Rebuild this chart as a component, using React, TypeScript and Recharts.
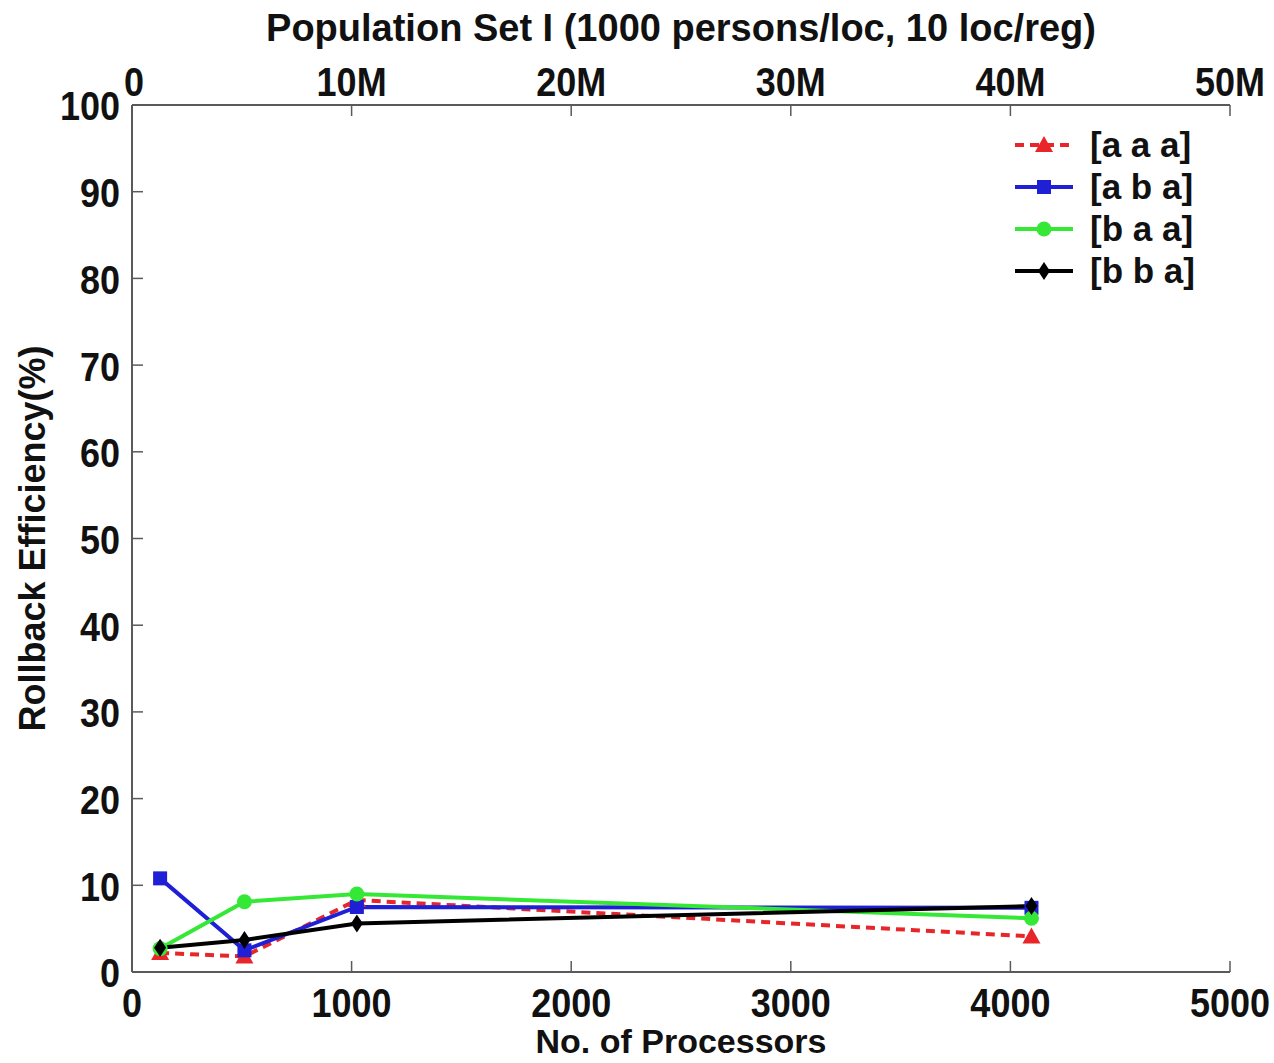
import React from "react";
import {
  LineChart,
  Line,
  XAxis,
  YAxis,
  Label,
} from "recharts";

// number of processors on the bottom axis
const processors = [128, 512, 1024, 4096];

// rollback efficiency (%) per configuration
const aaa = [2.2, 1.8, 8.3, 4.1];
const aba = [10.8, 2.5, 7.5, 7.4];
const baa = [2.7, 8.1, 9.0, 6.2];
const bba = [2.8, 3.7, 5.6, 7.6];

const xTicks = [0, 1000, 2000, 3000, 4000, 5000];
const topTickLabels = ["0", "10M", "20M", "30M", "40M", "50M"];
const yTicks = [0, 10, 20, 30, 40, 50, 60, 70, 80, 90, 100];

const FONT = "'Liberation Sans', Arial, Helvetica, sans-serif";
const AXIS = "#5a5a5a";
const TICK_GAP = 12;
const TICK_LEN = 11;

type MarkerKind = "triangle" | "square" | "circle" | "diamond";

const series = [
  { key: "aaa", name: "[a a a]", color: "#e8262a", marker: "triangle" as MarkerKind, dash: "9 6", values: aaa },
  { key: "aba", name: "[a b a]", color: "#1f1fd6", marker: "square" as MarkerKind, dash: undefined, values: aba },
  { key: "baa", name: "[b a a]", color: "#35e835", marker: "circle" as MarkerKind, dash: undefined, values: baa },
  { key: "bba", name: "[b b a]", color: "#000000", marker: "diamond" as MarkerKind, dash: undefined, values: bba },
];

const data = processors.map((p, i) => ({
  procs: p,
  aaa: aaa[i],
  aba: aba[i],
  baa: baa[i],
  bba: bba[i],
}));

function Marker({ kind, cx, cy, color }: { kind: MarkerKind; cx: number; cy: number; color: string }) {
  if (kind === "triangle") {
    return <polygon points={`${cx},${cy - 9} ${cx + 9},${cy + 7} ${cx - 9},${cy + 7}`} fill={color} />;
  }
  if (kind === "square") {
    return <rect x={cx - 7} y={cy - 7} width={14} height={14} fill={color} />;
  }
  if (kind === "circle") {
    return <circle cx={cx} cy={cy} r={7.5} fill={color} />;
  }
  return <polygon points={`${cx},${cy - 9} ${cx + 6},${cy} ${cx},${cy + 9} ${cx - 6},${cy}`} fill={color} />;
}

function TickText({ x, y, text, anchor }: { x: number; y: number; text: string; anchor: "start" | "middle" | "end" }) {
  return (
    <text
      transform={`translate(${x},${y}) scale(1,1.15)`}
      textAnchor={anchor}
      dominantBaseline="central"
      fontFamily={FONT}
      fontWeight="bold"
      fontSize={36}
      fill="#111"
    >
      {text}
    </text>
  );
}

const LeftTick = (props: any) => {
  const { x, y, payload } = props;
  const ax = x + TICK_GAP;
  return (
    <g>
      <line x1={ax} x2={ax + TICK_LEN} y1={y} y2={y} stroke={AXIS} strokeWidth={1.5} />
      <TickText x={x} y={y + 1} text={String(payload.value)} anchor="end" />
    </g>
  );
};

const RightTick = (props: any) => {
  const { x, y } = props;
  const ax = x - TICK_GAP;
  return <line x1={ax} x2={ax - TICK_LEN} y1={y} y2={y} stroke={AXIS} strokeWidth={1.5} />;
};

const BottomTick = (props: any) => {
  const { x, y, payload } = props;
  const ay = y - TICK_GAP;
  return (
    <g>
      <line x1={x} x2={x} y1={ay} y2={ay - TICK_LEN} stroke={AXIS} strokeWidth={1.5} />
      <TickText x={x} y={y + 19} text={String(payload.value)} anchor="middle" />
    </g>
  );
};

const TopTick = (props: any) => {
  const { x, y, payload, index } = props;
  const ay = y + TICK_GAP;
  const label = topTickLabels[index] ?? String(payload.value);
  return (
    <g>
      <line x1={x} x2={x} y1={ay} y2={ay + TICK_LEN} stroke={AXIS} strokeWidth={1.5} />
      <TickText x={index === 0 ? x + 2 : x} y={y - 11} text={label} anchor="middle" />
    </g>
  );
};

function LegendBox() {
  return (
    <div
      style={{
        position: "absolute",
        left: 1010,
        top: 124,
        fontFamily: FONT,
        fontWeight: "bold",
        fontSize: 35,
        color: "#111",
      }}
    >
      {series.map((s) => (
        <div key={s.key} style={{ display: "flex", alignItems: "center", height: 42 }}>
          <svg width={80} height={42} style={{ display: "block" }}>
            <line x1={5} x2={63} y1={21} y2={21} stroke={s.color} strokeWidth={4} strokeDasharray={s.dash} />
            <Marker kind={s.marker} cx={34} cy={21} color={s.color} />
          </svg>
          <span style={{ lineHeight: "42px", whiteSpace: "nowrap" }}>{s.name}</span>
        </div>
      ))}
    </div>
  );
}

export default function App() {
  return (
    <div style={{ position: "absolute", left: 0, top: 0, width: 1274, height: 1063, background: "#fff" }}>
      <LineChart
        width={1274}
        height={1063}
        data={data}
        margin={{ top: 55, right: 44, left: 72, bottom: 41 }}
      >
        <XAxis
          dataKey="procs"
          type="number"
          domain={[0, 5000]}
          ticks={xTicks}
          height={50}
          interval={0}
          stroke={AXIS}
          strokeWidth={2}
          tickLine={false}
          tickSize={0}
          tickMargin={TICK_GAP}
          tick={<BottomTick />}
        >
          <Label
            content={(p: any) => {
              const vb = p.viewBox;
              return (
                <text
                  x={vb.x + vb.width / 2}
                  y={vb.y + 81}
                  textAnchor="middle"
                  fontFamily={FONT}
                  fontWeight="bold"
                  fontSize={34}
                  fill="#111"
                >
                  No. of Processors
                </text>
              );
            }}
          />
        </XAxis>
        <XAxis
          xAxisId="top"
          orientation="top"
          dataKey="procs"
          type="number"
          domain={[0, 5000]}
          ticks={xTicks}
          height={50}
          interval={0}
          stroke={AXIS}
          strokeWidth={2}
          tickLine={false}
          tickSize={0}
          tickMargin={TICK_GAP}
          tick={<TopTick />}
        >
          <Label
            content={(p: any) => {
              const vb = p.viewBox;
              return (
                <text
                  x={vb.x + vb.width / 2}
                  y={vb.y - 14}
                  textAnchor="middle"
                  fontFamily={FONT}
                  fontWeight="bold"
                  fontSize={38}
                  fill="#111"
                >
                  Population Set I (1000 persons/loc, 10 loc/reg)
                </text>
              );
            }}
          />
        </XAxis>
        <YAxis
          type="number"
          domain={[0, 100]}
          ticks={yTicks}
          width={60}
          interval={0}
          stroke={AXIS}
          strokeWidth={2}
          tickLine={false}
          tickSize={0}
          tickMargin={TICK_GAP}
          tick={<LeftTick />}
        >
          <Label
            content={(p: any) => {
              const vb = p.viewBox;
              const cx = vb.x - 40;
              const cy = vb.y + vb.height / 2;
              return (
                <text
                  transform={`translate(${cx},${cy}) rotate(-90)`}
                  textAnchor="middle"
                  dominantBaseline="central"
                  fontFamily={FONT}
                  fontWeight="bold"
                  fontSize={36}
                  fill="#111"
                >
                  Rollback Efficiency(%)
                </text>
              );
            }}
          />
        </YAxis>
        <YAxis
          yAxisId="right"
          orientation="right"
          type="number"
          domain={[0, 100]}
          ticks={yTicks}
          width={0}
          interval={0}
          stroke={AXIS}
          strokeWidth={2}
          tickLine={false}
          tickSize={0}
          tickMargin={TICK_GAP}
          tick={<RightTick />}
        />
        {series.map((s) => (
          <Line
            key={s.key}
            type="linear"
            dataKey={s.key}
            name={s.name}
            stroke={s.color}
            strokeWidth={4}
            strokeDasharray={s.dash}
            isAnimationActive={false}
            dot={(p: any) => (
              <Marker key={`${s.key}-${p.index}`} kind={s.marker} cx={p.cx} cy={p.cy} color={s.color} />
            )}
            activeDot={false}
          />
        ))}
      </LineChart>
      <LegendBox />
    </div>
  );
}
